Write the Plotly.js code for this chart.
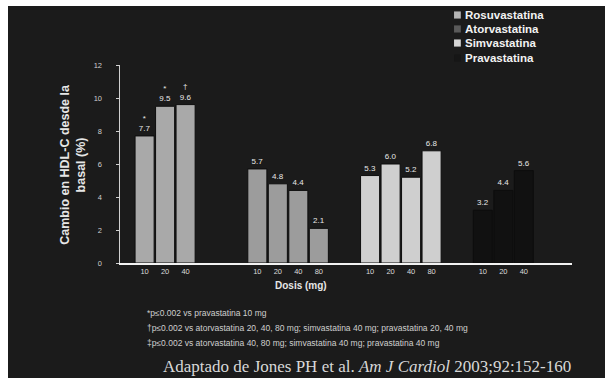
<!DOCTYPE html>
<html>
<head>
<meta charset="utf-8">
<script src="https://cdn.plot.ly/plotly-3.0.1.min.js"></script>
<style>
  html, body { margin: 0; padding: 0; background: #ffffff; overflow: hidden; }
  #chart { position: absolute; left: 8px; top: 6px; width: 597px; height: 372px; }
</style>
</head>
<body>
<div id="chart"></div>
<script>
// ---- data ----
const drugs = ["Rosuvastatina", "Atorvastatina", "Simvastatina", "Pravastatina"];
const dosesRosuva = ["10", "20", "40"];
const dosesAtorva = ["10", "20", "40", "80"];
const dosesSimva  = ["10", "20", "40", "80"];
const dosesPrava  = ["10", "20", "40"];
const hdlRosuva = [7.7, 9.5, 9.6];
const hdlAtorva = [5.7, 4.8, 4.4, 2.1];
const hdlSimva  = [5.3, 6.0, 5.2, 6.8];
const hdlPrava  = [3.2, 4.4, 5.6];
const marksRosuva = ["*", "*", "†"];
const yTickVals = [0, 2, 4, 6, 8, 10, 12];
const footnotes = [
  "*p≤0.002 vs pravastatina 10 mg",
  "†p≤0.002 vs atorvastatina 20, 40, 80 mg; simvastatina 40 mg; pravastatina 20, 40 mg",
  "‡p≤0.002 vs atorvastatina 40, 80 mg; simvastatina 40 mg; pravastatina 40 mg"
];
const source = "Adaptado de Jones PH et al. <i>Am J Cardiol</i> 2003;92:152-160";

// ---- styling ----
const colors = ["#a9a9a9", "#9c9c9c", "#cfcfcf", "#111111"];
const swatchColors = ["#b4b4b4", "#5a5a5a", "#d6d6d6", "#161616"];
const groups = [
  {doses: dosesRosuva, vals: hdlRosuva, marks: marksRosuva},
  {doses: dosesAtorva, vals: hdlAtorva, marks: null},
  {doses: dosesSimva,  vals: hdlSimva,  marks: null},
  {doses: dosesPrava,  vals: hdlPrava,  marks: null}
];
const groupStep = 5.5;
const tickVals = [], tickText = [];
const traces = groups.map((g, gi) => {
  const xs = g.doses.map((d, i) => gi * groupStep + i);
  xs.forEach((x, i) => { tickVals.push(x); tickText.push(g.doses[i]); });
  const txt = g.vals.map((v, i) => (g.marks ? g.marks[i] + "<br>" : "") + v.toFixed(1));
  return {
    type: "bar",
    name: drugs[gi],
    x: xs,
    y: g.vals,
    width: 0.93,
    text: txt,
    textposition: "outside",
    cliponaxis: false,
    textfont: {color: "#e8e8e8", size: 8, family: "Liberation Sans, Arial, sans-serif"},
    marker: {color: colors[gi], line: {color: "#0d0d0d", width: 1}},
    hoverinfo: "skip"
  };
});

const annotations = [];
const shapes = [];
// legend drawn as swatches + labels
const legY = [1.2525, 1.182, 1.111, 1.035];
drugs.forEach((d, i) => {
  shapes.push({
    type: "rect", xref: "paper", yref: "paper",
    x0: 0.739, x1: 0.754, y0: legY[i] - 0.018, y1: legY[i] + 0.018,
    fillcolor: swatchColors[i], line: {width: 0}
  });
  annotations.push({
    xref: "paper", yref: "paper", x: 0.759, y: legY[i], xanchor: "left", yanchor: "middle",
    text: "<b>" + d + "</b>", showarrow: false,
    font: {color: "#f2f2f2", size: 11.5, family: "Liberation Sans, Arial, sans-serif"}
  });
});
annotations.push({
  xref: "paper", yref: "paper", x: -0.142, y: 0.50, textangle: -90,
  text: "<b>Cambio en HDL-C desde la<br>basal (%)</b>", showarrow: false,
  font: {color: "#e6e6e6", size: 12.5, family: "Liberation Sans, Arial, sans-serif"}
});
annotations.push({
  xref: "paper", yref: "paper", x: 0.40, y: -0.112, xanchor: "center", yanchor: "middle",
  text: "<b>Dosis (mg)</b>", showarrow: false,
  font: {color: "#e6e6e6", size: 10, family: "Liberation Sans, Arial, sans-serif"}
});
const fnY = [-0.253, -0.330, -0.406];
footnotes.forEach((t, i) => annotations.push({
  xref: "paper", yref: "paper", x: 0.056, y: fnY[i], xanchor: "left", yanchor: "middle",
  text: t, showarrow: false,
  font: {color: "#cfcfcf", size: 8.5, family: "Liberation Sans, Arial, sans-serif"}
}));
annotations.push({
  xref: "paper", yref: "paper", x: 0.09, y: -0.522, xanchor: "left", yanchor: "middle",
  text: source, showarrow: false,
  font: {color: "#d8d8d8", size: 17, family: "Liberation Serif, Times New Roman, serif"}
});

const layout = {
  width: 597, height: 372,
  margin: {l: 112, r: 33, t: 59, b: 115},
  paper_bgcolor: "#1b1b1b",
  plot_bgcolor: "rgba(0,0,0,0)",
  bargap: 0,
  showlegend: false,
  xaxis: {
    range: [-1.2, 20.85], fixedrange: true,
    tickmode: "array", tickvals: tickVals, ticktext: tickText,
    ticks: "", showgrid: false, zeroline: false,
    showline: true, linecolor: "#f2f2f2", linewidth: 2,
    tickfont: {color: "#dcdcdc", size: 7.5, family: "Liberation Sans, Arial, sans-serif"}
  },
  yaxis: {
    range: [0, 12], fixedrange: true,
    tickmode: "array", tickvals: yTickVals,
    ticks: "outside", ticklen: 3, tickcolor: "#cfcfcf", ticklabelstandoff: 12,
    showgrid: false, zeroline: false,
    showline: true, linecolor: "#d0d0d0", linewidth: 1.5,
    tickfont: {color: "#d0d0d0", size: 7.5, family: "Liberation Sans, Arial, sans-serif"}
  },
  shapes: shapes,
  annotations: annotations
};

Plotly.newPlot("chart", traces, layout, {displayModeBar: false, staticPlot: true});
</script>
</body>
</html>
